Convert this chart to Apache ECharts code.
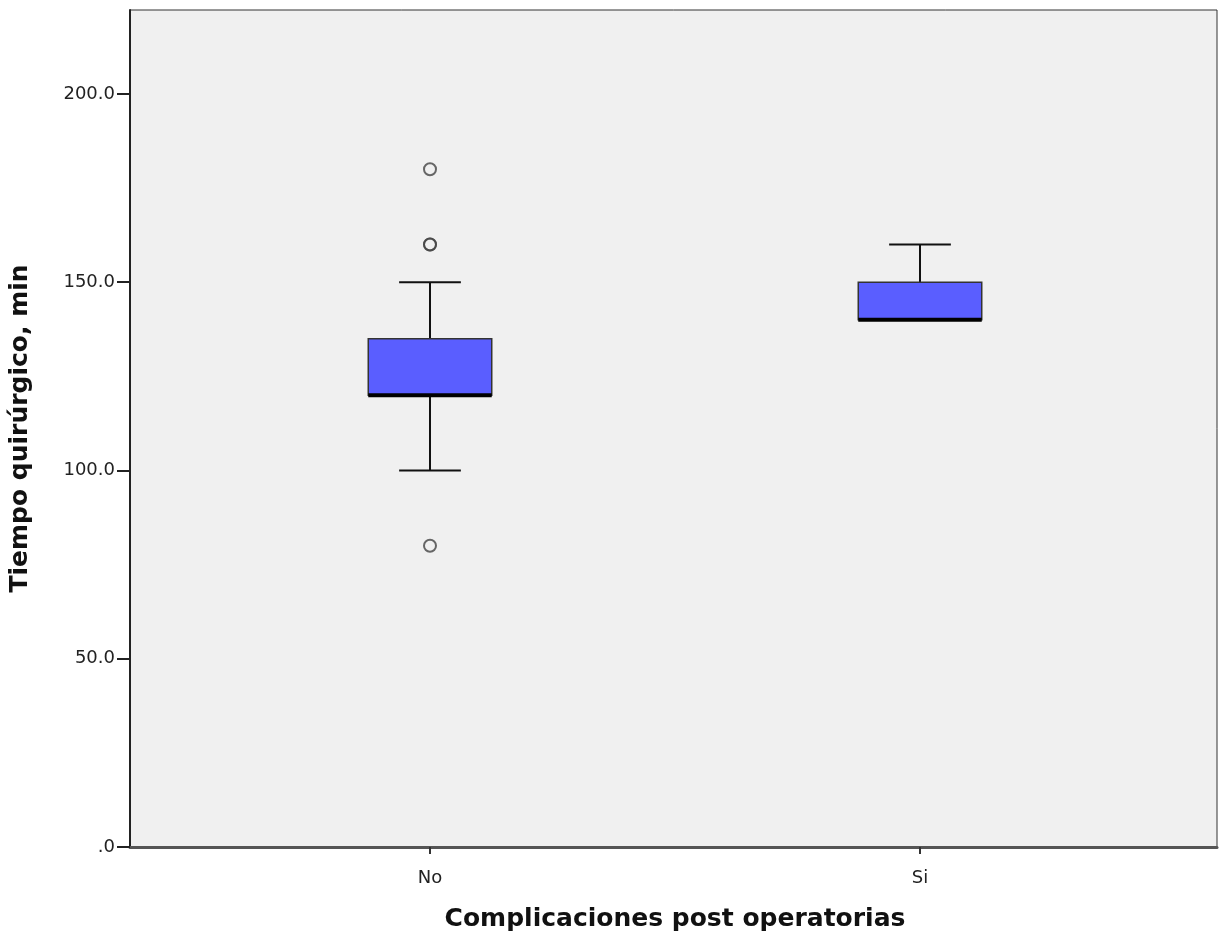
<!DOCTYPE html>
<html>
<head>
<meta charset="utf-8">
<script src="https://cdn.jsdelivr.net/npm/echarts@6/dist/echarts.min.js"></script>
<style>
  html, body { margin: 0; padding: 0; background: #fff; }
  #chart { width: 1219px; height: 941px; }
</style>
</head>
<body>
<div id="chart"></div>
<script>
const categories = ['No', 'Si']
// [min, Q1, median, Q3, max]
const boxStats = [
  [100, 120, 120, 135, 150],
  [140, 140, 140, 150, 160]
]
// outliers: [category, value]
const outliers = [
  ['No', 80],
  ['No', 160],
  ['No', 160],
  ['No', 180]
]
const yTicks = [0, 50, 100, 150, 200]

const chart = echarts.init(document.getElementById('chart'))

const axisFont = { color: '#222', fontSize: 18, fontFamily: 'DejaVu Sans, sans-serif' }
const nameFont = { color: '#111', fontSize: 25, fontWeight: 'bold', fontFamily: 'DejaVu Sans, sans-serif' }

const renderBox = (params, api) => {
  const idx = api.value(0)
  const band = api.size([1, 0])[0]
  const half = band * 0.126
  const capHalf = half / 2
  const pMin = api.coord([idx, api.value(1)])
  const pQ1 = api.coord([idx, api.value(2)])
  const pMed = api.coord([idx, api.value(3)])
  const pQ3 = api.coord([idx, api.value(4)])
  const pMax = api.coord([idx, api.value(5)])
  const x = pMin[0]
  const lineStyle = { stroke: '#111', lineWidth: 2 }
  return {
    type: 'group',
    children: [
      { type: 'line', shape: { x1: x, y1: pQ1[1], x2: x, y2: pMin[1] }, style: lineStyle },
      { type: 'line', shape: { x1: x, y1: pQ3[1], x2: x, y2: pMax[1] }, style: lineStyle },
      { type: 'line', shape: { x1: x - capHalf, y1: pMin[1], x2: x + capHalf, y2: pMin[1] }, style: lineStyle },
      { type: 'line', shape: { x1: x - capHalf, y1: pMax[1], x2: x + capHalf, y2: pMax[1] }, style: lineStyle },
      {
        type: 'rect',
        shape: { x: x - half, y: pQ3[1], width: half * 2, height: pQ1[1] - pQ3[1] },
        style: { fill: '#5a5eff', stroke: '#333', lineWidth: 1.5 }
      },
      { type: 'line', shape: { x1: x - half, y1: pMed[1], x2: x + half, y2: pMed[1] }, style: { stroke: '#000', lineWidth: 4 } }
    ]
  }
}

chart.setOption({
  animation: false,
  backgroundColor: '#fff',
  grid: [
    { left: 130, right: 2, top: 10, bottom: 94, show: true, backgroundColor: '#f0f0f0', borderColor: '#333', borderWidth: 1 },
    { left: 185, right: 54, top: 10, bottom: 94 }
  ],
  xAxis: [
    {
      gridIndex: 0, type: 'value', min: 0, max: 1,
      axisLine: { show: true, lineStyle: { color: '#555', width: 3 } },
      axisTick: { show: false }, axisLabel: { show: false }, splitLine: { show: false }
    },
    {
      gridIndex: 1, type: 'category', data: categories,
      axisLine: { show: false },
      axisTick: { show: true, alignWithLabel: true, length: 7, lineStyle: { color: '#333', width: 2 } },
      axisLabel: { ...axisFont, margin: 22 },
      name: 'Complicaciones post operatorias',
      nameLocation: 'middle', nameGap: 60, nameTextStyle: nameFont
    }
  ],
  yAxis: [
    {
      gridIndex: 0, type: 'value', min: 0, max: 222.3, interval: 50,
      axisLine: { show: true, lineStyle: { color: '#222', width: 2 } },
      axisTick: { show: true, length: 13, customValues: yTicks, lineStyle: { color: '#222', width: 2 } },
      axisLabel: {
        ...axisFont, margin: 15, customValues: yTicks,
        formatter: v => v === 0 ? '.0' : v.toFixed(1)
      },
      splitLine: { show: false },
      name: 'Tiempo quirúrgico, min',
      nameLocation: 'middle', nameGap: 97, nameRotate: 90, nameTextStyle: nameFont
    },
    {
      gridIndex: 1, type: 'value', min: 0, max: 222.3, show: false, splitLine: { show: false }
    }
  ],
  series: [
    {
      type: 'custom',
      xAxisIndex: 1, yAxisIndex: 1,
      renderItem: renderBox,
      data: boxStats.map((s, i) => [i, ...s])
    },
    {
      type: 'scatter',
      xAxisIndex: 1, yAxisIndex: 1,
      symbol: 'circle', symbolSize: 12,
      itemStyle: { color: 'rgba(0,0,0,0)', borderColor: '#444', borderWidth: 2 },
      data: outliers
    }
  ]
})
</script>
</body>
</html>
